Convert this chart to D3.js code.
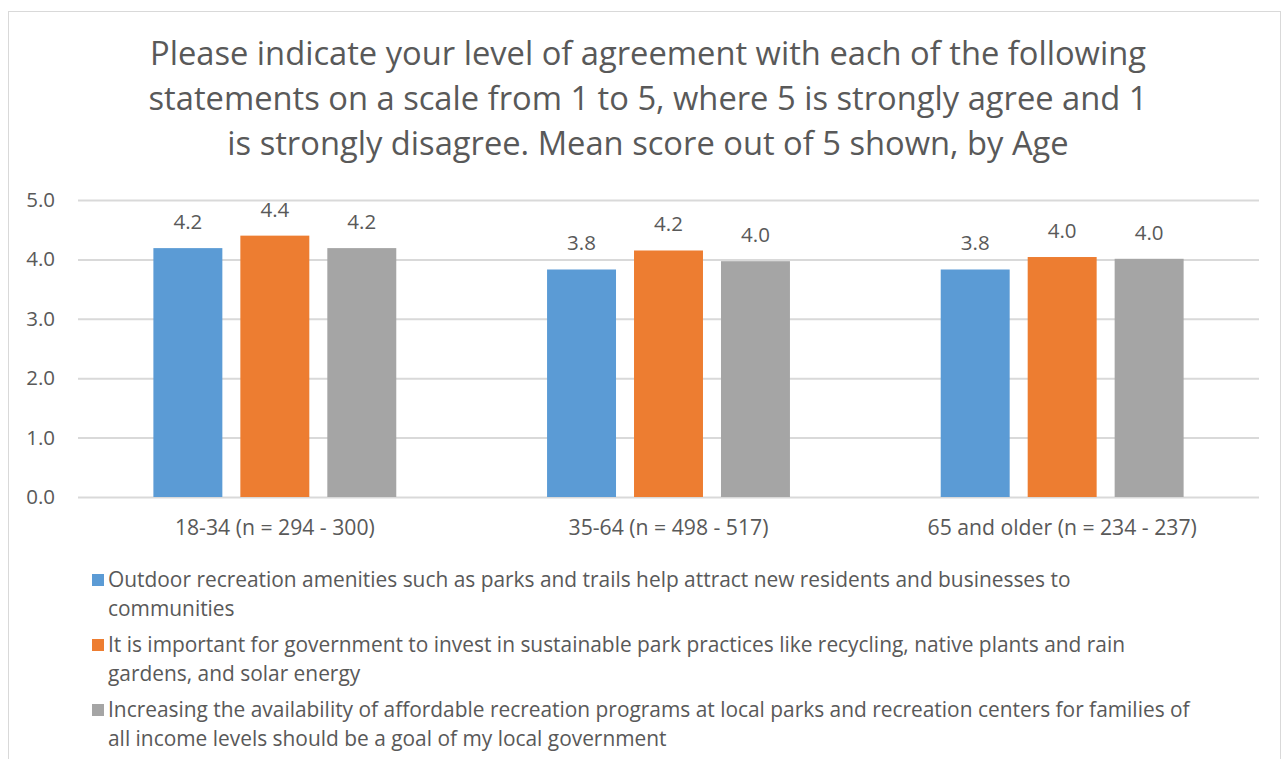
<!DOCTYPE html>
<html>
<head>
<script src="https://d3js.org/d3.v7.min.js"></script>
<style>
  body { margin: 0; background: #fff; }
  text { font-family: "Open Sans", "Noto Sans", sans-serif; fill: #595959; }
</style>
</head>
<body>
<svg id="chart" width="1285" height="759"></svg>
<script>
var categories = ["18-34 (n = 294 - 300)", "35-64 (n = 498 - 517)", "65 and older (n = 234 - 237)"];
var seriesNames = ["Outdoor", "Invest", "Affordable"];
var outdoorValues = [4.19, 3.83, 3.83];
var investValues = [4.40, 4.15, 4.04];
var affordableValues = [4.19, 3.97, 4.01];
var yTicks = [0, 1, 2, 3, 4, 5];
var colors = ["#5b9bd5", "#ed7d31", "#a5a5a5"];
var titleLines = [
  "Please indicate your level of agreement with each of the following",
  "statements on a scale from 1 to 5, where 5 is strongly agree and 1",
  "is strongly disagree. Mean score out of 5 shown, by Age"
];
var legendLines = [
  ["Outdoor recreation amenities such as parks and trails help attract new residents and businesses to", "communities"],
  ["It is important for government to invest in sustainable park practices like recycling, native plants and rain", "gardens, and solar energy"],
  ["Increasing the availability of affordable recreation programs at local parks and recreation centers for families of", "all income levels should be a goal of my local government"]
];

var allValues = [outdoorValues, investValues, affordableValues];

var svg = d3.select("#chart");

// chart area border
svg.append("rect")
  .attr("x", 8.5).attr("y", 11.5)
  .attr("width", 1272).attr("height", 800)
  .attr("fill", "none").attr("stroke", "#d9d9d9");

// title
svg.append("g").selectAll("text")
  .data(titleLines)
  .enter().append("text")
  .attr("x", 648)
  .attr("y", function(d, i) { return 65 + i * 45; })
  .attr("text-anchor", "middle")
  .attr("font-size", 32.7)
  .text(function(d) { return d; });

var plotLeft = 78, plotRight = 1259, plotTop = 200, plotBottom = 497;

var x0 = d3.scaleBand().domain(categories).range([plotLeft, plotRight])
  .paddingInner(0.383).paddingOuter(0.1915);
var x1 = d3.scaleBand().domain(seriesNames).range([0, x0.bandwidth()])
  .paddingInner(0.207);
var y = d3.scaleLinear().domain([0, 5]).range([plotBottom, plotTop]);

// gridlines + y labels
var yAxis = svg.append("g")
  .attr("transform", "translate(" + plotLeft + ",0)")
  .call(d3.axisLeft(y).tickValues(yTicks).tickSize(-(plotRight - plotLeft)).tickPadding(23).tickFormat(d3.format(".1f")));
yAxis.select(".domain").remove();
yAxis.selectAll("line").attr("stroke", "#d9d9d9").attr("stroke-width", 2);
yAxis.selectAll("text").attr("font-size", 20.5).attr("fill", "#595959")
  .style("font-family", "'Open Sans', sans-serif");

// bars
var groups = svg.append("g").selectAll("g")
  .data(categories)
  .enter().append("g")
  .attr("transform", function(d) { return "translate(" + x0(d) + ",0)"; });

groups.selectAll("rect")
  .data(function(d, ci) { return seriesNames.map(function(s, si) { return { s: s, si: si, v: allValues[si][ci] }; }); })
  .enter().append("rect")
  .attr("x", function(d) { return x1(d.s); })
  .attr("y", function(d) { return y(d.v); })
  .attr("width", x1.bandwidth())
  .attr("height", function(d) { return y(0) - y(d.v); })
  .attr("fill", function(d) { return colors[d.si]; });

groups.selectAll("text.val")
  .data(function(d, ci) { return seriesNames.map(function(s, si) { return { s: s, si: si, v: allValues[si][ci] }; }); })
  .enter().append("text")
  .attr("class", "val")
  .attr("x", function(d) { return x1(d.s) + x1.bandwidth() / 2; })
  .attr("y", function(d) { return y(d.v) - 19; })
  .attr("text-anchor", "middle")
  .attr("font-size", 20.5)
  .text(function(d) { return d.v.toFixed(1); });

// category labels
svg.append("g").selectAll("text")
  .data(categories)
  .enter().append("text")
  .attr("x", function(d) { return x0(d) + x0.bandwidth() / 2; })
  .attr("y", 535)
  .attr("text-anchor", "middle")
  .attr("font-size", 21.2)
  .text(function(d) { return d; });

// legend
var legend = svg.append("g").selectAll("g")
  .data(legendLines)
  .enter().append("g")
  .attr("transform", function(d, i) { return "translate(92," + (587 + i * 65) + ")"; });

legend.append("rect")
  .attr("x", 0).attr("y", -13)
  .attr("width", 12).attr("height", 12)
  .attr("fill", function(d, i) { return colors[i]; });

legend.selectAll("text")
  .data(function(d) { return d; })
  .enter().append("text")
  .attr("x", 16)
  .attr("y", function(d, i) { return i * 29; })
  .attr("font-size", 20.9)
  .text(function(d) { return d; });
</script>
</body>
</html>
